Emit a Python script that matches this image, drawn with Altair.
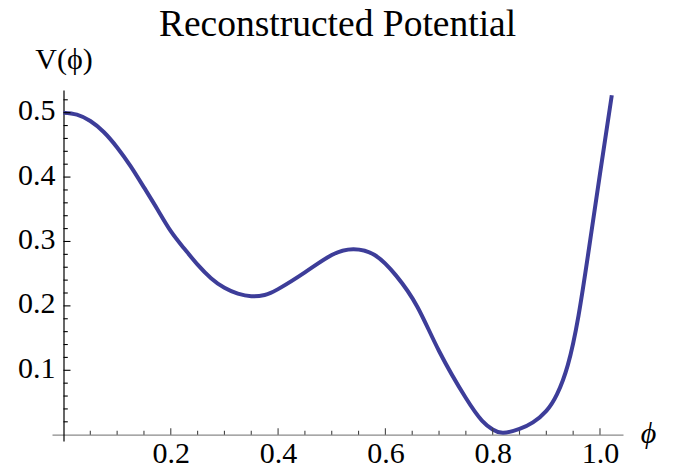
import altair as alt
import pandas as pd

# Curve
phi = [0.000, 0.025, 0.050, 0.075, 0.100, 0.125, 0.150, 0.175, 0.200, 0.225,
       0.250, 0.275, 0.300, 0.325, 0.350, 0.375,
       0.400, 0.450, 0.500, 0.540, 0.580, 0.620, 0.660, 0.700, 0.750,
       0.780, 0.800, 0.820, 0.850, 0.875, 0.900, 0.920, 0.940, 0.960,
       0.980, 1.000, 1.022]
V = [0.500, 0.497, 0.487, 0.470, 0.446, 0.417, 0.384, 0.350, 0.316, 0.289,
     0.264, 0.243, 0.228, 0.219, 0.215, 0.217,
     0.226, 0.252, 0.279, 0.288, 0.279, 0.247, 0.198, 0.130, 0.057,
     0.022, 0.008, 0.003, 0.009, 0.019, 0.037, 0.063, 0.108, 0.185,
     0.292, 0.405, 0.527]

x_major = [0.2, 0.4, 0.6, 0.8, 1.0]
x_minor = [0.05, 0.1, 0.15, 0.25, 0.3, 0.35, 0.45, 0.5, 0.55,
           0.65, 0.7, 0.75, 0.85, 0.9, 0.95]
y_major = [0.1, 0.2, 0.3, 0.4, 0.5]
y_minor = [0.02, 0.04, 0.06, 0.08, 0.12, 0.14, 0.16, 0.18, 0.22, 0.24, 0.26,
           0.28, 0.32, 0.34, 0.36, 0.38, 0.42, 0.44, 0.46, 0.48, 0.52]

X_DOMAIN = [-0.0214, 1.0429]
Y_DOMAIN = [-0.0098, 0.5352]

FONT = "Liberation Serif"
LINE = "#3D3D99"

xs = alt.Scale(domain=X_DOMAIN, nice=False, zero=False)
ys = alt.Scale(domain=Y_DOMAIN, nice=False, zero=False)

x_axis = alt.Axis(
    values=x_major, format=".1f", grid=False, ticks=False, tickSize=0,
    domainColor="#8a8a8a", domainWidth=1.2, offset=-6.3,
    labelFont=FONT, labelFontSize=30, labelColor="black", labelPadding=4.0,
    labelFlush=False, labelOverlap=False,
    title="ϕ", titleFont=FONT, titleFontSize=30, titleFontStyle="italic",
    titleFontWeight="normal", titleColor="black", titleX=596, titleY=-1,
    titleAlign="center", titleBaseline="middle")

y_axis = alt.Axis(
    values=y_major, format=".1f", grid=False, ticks=False, tickSize=0,
    domainColor="black", domainWidth=1.2, offset=-11.5,
    labelFont=FONT, labelFontSize=30, labelColor="black", labelPadding=8.5,
    labelOffset=-2, labelFlush=False, labelOverlap=False,
    title="V(ϕ)", titleFont=FONT, titleFontSize=30, titleFontWeight="normal",
    titleColor="black", titleAngle=0, titleX=0, titleY=-30.5,
    titleAlign="center", titleBaseline="middle")

curve = alt.Chart(pd.DataFrame({"phi": phi, "V": V})).mark_line(
    color=LINE, strokeWidth=4, interpolate="natural", strokeCap="butt"
).encode(
    x=alt.X("phi:Q", scale=xs, axis=x_axis),
    y=alt.Y("V:Q", scale=ys, axis=y_axis),
)


def xticks(vals, length):
    return alt.Chart(pd.DataFrame({"v": vals, "zero": [0.0] * len(vals)})).mark_rule(
        color="#444444", strokeWidth=1.1, y2Offset=-length
    ).encode(
        x=alt.X("v:Q", scale=xs, axis=x_axis),
        y=alt.Y("zero:Q", scale=ys, axis=y_axis),
        y2="zero:Q",
    )


def yticks(vals, length):
    return alt.Chart(pd.DataFrame({"v": vals, "zero": [0.0] * len(vals)})).mark_rule(
        color="black", strokeWidth=1.1, x2Offset=length
    ).encode(
        y=alt.Y("v:Q", scale=ys, axis=y_axis),
        x=alt.X("zero:Q", scale=xs, axis=x_axis),
        x2="zero:Q",
    )


chart = alt.layer(
    curve,
    xticks(x_major, 6.5), xticks(x_minor, 4),
    yticks(y_major, 7), yticks(y_minor, 4.3),
).properties(
    width=571, height=351,
    background="white",
    title=alt.TitleParams("Reconstructed Potential", font=FONT, fontSize=37.5,
                          fontWeight="normal", color="black", anchor="middle",
                          frame="group", baseline="alphabetic", offset=-28.5),
    autosize=alt.AutoSizeParams(type="none"),
    padding={"left": 44, "top": 82, "right": 45, "bottom": 31},
).configure_view(strokeWidth=0)

chart.save("out.html", embed_options={"renderer": "svg", "actions": False})
